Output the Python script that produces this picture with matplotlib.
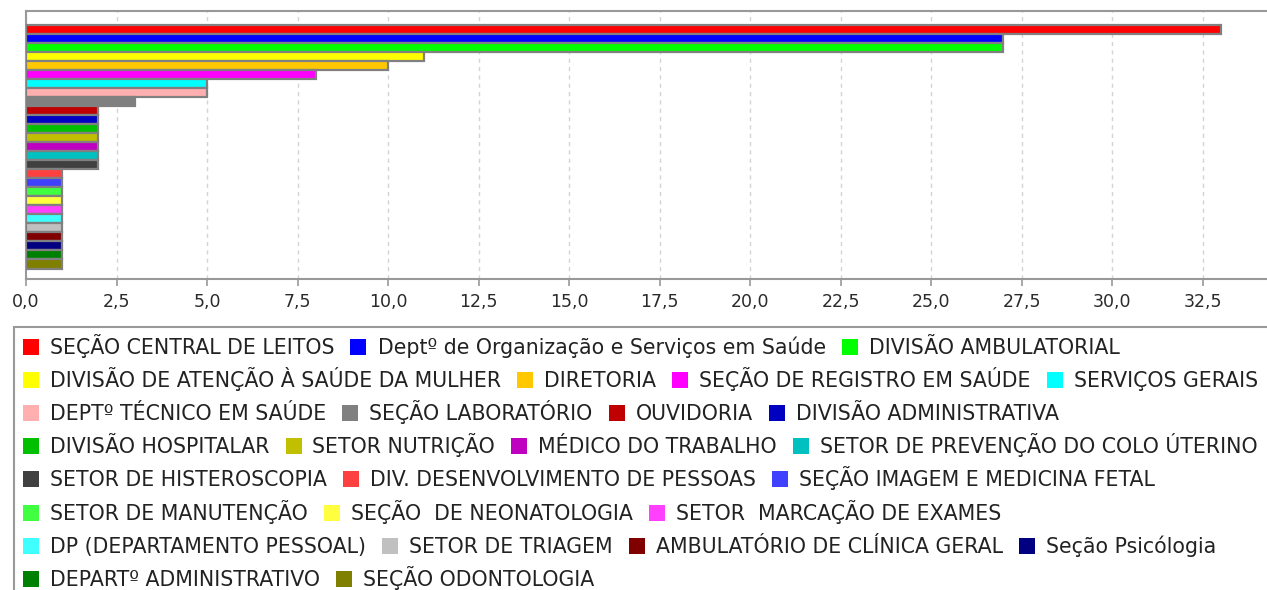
import matplotlib
matplotlib.use("Agg")
from matplotlib import pyplot as plt
from matplotlib.patches import Rectangle
from matplotlib.ticker import FuncFormatter, MultipleLocator

labels = [
    "SEÇÃO CENTRAL DE LEITOS",
    "Deptº de Organização e Serviços em Saúde",
    "DIVISÃO AMBULATORIAL",
    "DIVISÃO DE ATENÇÃO À SAÚDE DA MULHER",
    "DIRETORIA",
    "SEÇÃO DE REGISTRO EM SAÚDE",
    "SERVIÇOS GERAIS",
    "DEPTº TÉCNICO EM SAÚDE",
    "SEÇÃO LABORATÓRIO",
    "OUVIDORIA",
    "DIVISÃO ADMINISTRATIVA",
    "DIVISÃO HOSPITALAR",
    "SETOR NUTRIÇÃO",
    "MÉDICO DO TRABALHO",
    "SETOR DE PREVENÇÃO DO COLO ÚTERINO",
    "SETOR DE HISTEROSCOPIA",
    "DIV. DESENVOLVIMENTO DE PESSOAS",
    "SEÇÃO IMAGEM E MEDICINA FETAL",
    "SETOR DE MANUTENÇÃO",
    "SEÇÃO  DE NEONATOLOGIA",
    "SETOR  MARCAÇÃO DE EXAMES",
    "DP (DEPARTAMENTO PESSOAL)",
    "SETOR DE TRIAGEM",
    "AMBULATÓRIO DE CLÍNICA GERAL",
    "Seção Psicólogia",
    "DEPARTº ADMINISTRATIVO",
    "SEÇÃO ODONTOLOGIA",
]
values = [33, 27, 27, 11, 10, 8, 5, 5, 3,
          2, 2, 2, 2, 2, 2, 2,
          1, 1, 1, 1, 1, 1, 1, 1, 1, 1, 1]
colors = [
    "#ff0000", "#0000ff", "#00ff00", "#ffff00", "#ffc800", "#ff00ff",
    "#00ffff", "#ffafaf", "#808080", "#c00000", "#0000c0", "#00c000",
    "#c0c000", "#c000c0", "#00c0c0", "#404040", "#ff4040", "#4040ff",
    "#40ff40", "#ffff40", "#ff40ff", "#40ffff", "#c0c0c0", "#800000",
    "#000080", "#008000", "#808000",
]
# legend rows as wrapped in the original
legend_rows = [[0, 1, 2], [3, 4, 5, 6], [7, 8, 9, 10], [11, 12, 13, 14],
               [15, 16, 17], [18, 19, 20], [21, 22, 23, 24], [25, 26]]

W, H = 1267, 590
fig = plt.figure(figsize=(W / 100, H / 100), dpi=100)
fig.patch.set_facecolor("white")

ax = fig.add_axes([26 / W, (H - 279) / H, (W - 26) / W, 268 / H])
for i, (v, c) in enumerate(zip(values, colors)):
    ax.barh(i, v, height=1.0, color=c, edgecolor="#808080", linewidth=1.6, zorder=3)

ax.set_ylim(27.66, -2.0)
ax.set_xlim(0, (W - 26) / 36.2)
ax.set_yticks([])
ax.xaxis.set_major_locator(MultipleLocator(2.5))
ax.xaxis.set_major_formatter(FuncFormatter(lambda v, p: f"{v:.1f}".replace(".", ",")))
ax.tick_params(axis="x", direction="out", length=5, width=1.2, color="#999999",
               labelsize=12.5, labelcolor="#2a2a2a", pad=5)
ax.grid(axis="x", color="#d4d4d4", linestyle=(0, (3, 3)), linewidth=1.0, zorder=0)
for side in ["left", "bottom", "top"]:
    ax.spines[side].set_color("#999999")
    ax.spines[side].set_linewidth(1.5)
ax.spines["right"].set_visible(False)

# legend box, flowing past right and bottom edges like the original
fig.patches.append(Rectangle((14 / W, -0.05), 1.1, (H - 327) / H + 0.05,
                             transform=fig.transFigure, fill=False,
                             edgecolor="#999999", linewidth=1.5))

fig.canvas.draw()
renderer = fig.canvas.get_renderer()
sq = 16
row_y0, row_step = 347, 33.1
for r, row in enumerate(legend_rows):
    yc = row_y0 + r * row_step
    x = 23
    for idx in row:
        fig.patches.append(Rectangle((x / W, (H - yc - sq / 2) / H), sq / W, sq / H,
                                     transform=fig.transFigure, facecolor=colors[idx],
                                     edgecolor="none"))
        t = fig.text((x + sq + 11) / W, (H - yc - 7) / H, labels[idx], fontsize=14.8,
                     color="#222222", va="baseline", ha="left")
        bb = t.get_window_extent(renderer)
        x = bb.x1 + 16

fig.savefig("out.png", dpi=100)
